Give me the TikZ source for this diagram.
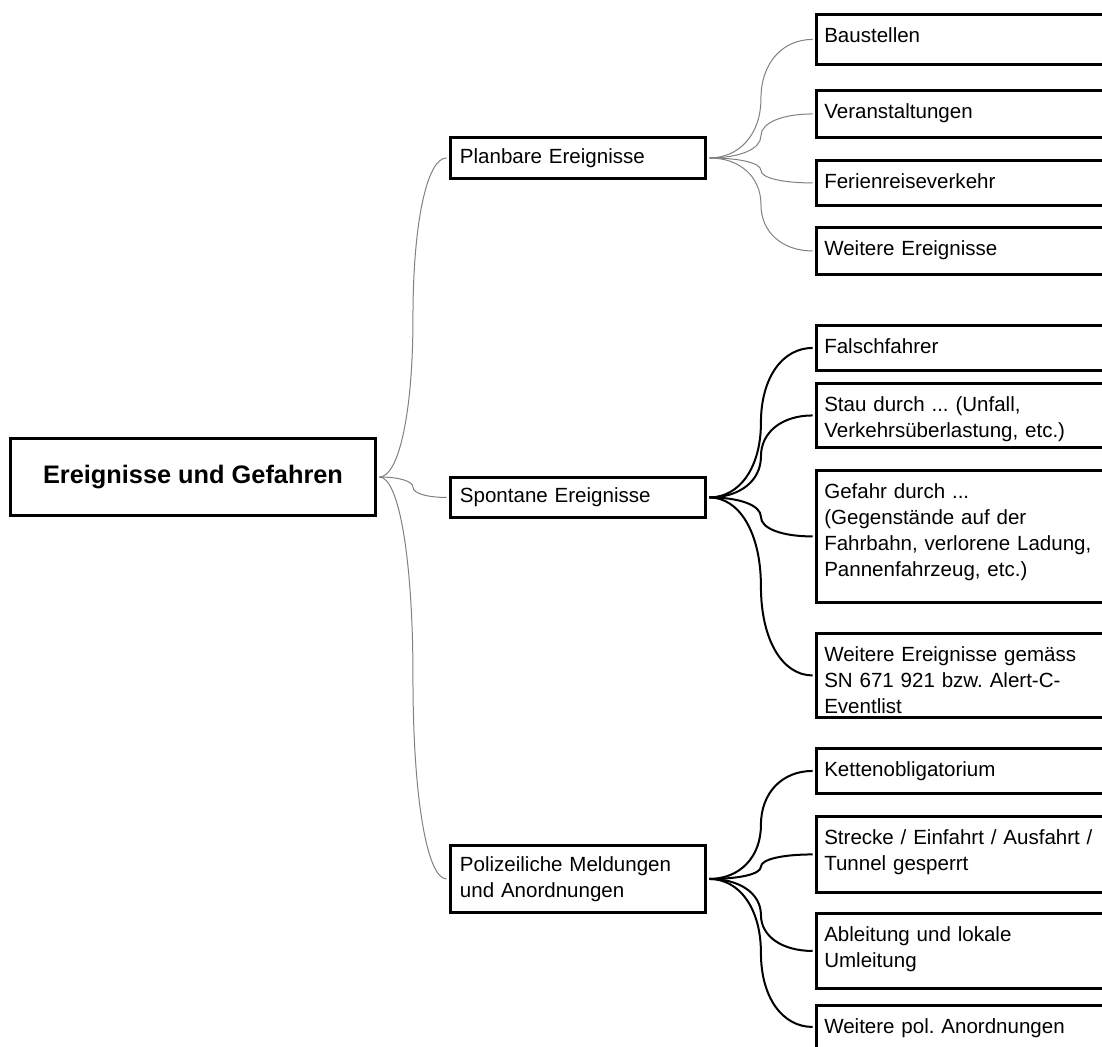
\documentclass[tikz,border=0pt]{standalone}
\usepackage{fontspec}
\setmainfont{Liberation Sans}
\frenchspacing
\usetikzlibrary{calc}

% 1 unit = 1 px (0.75pt), y grows downwards
\tikzset{
  frame/.style={draw=black, line width=2.9pt, rectangle, inner sep=0pt, anchor=north west},
  rootbox/.style={frame, minimum width=273.75pt, minimum height=57.75pt,
    font=\fontsize{19}{23}\selectfont\bfseries},
  topic/.style={frame, minimum width=191.25pt, text width=177pt, inner xsep=7.125pt,
    inner ysep=0pt, align=left, font=\fontsize{15.4}{19.5}\selectfont},
  leaf/.style={frame, minimum width=232.5pt},
  leaftext/.style={anchor=base west, inner sep=0pt, text width=213pt, align=left,
    font=\fontsize{15.4}{19.5}\selectfont},
  thinlink/.style={draw=black!50, line width=0.75pt, shorten <=1.45pt, shorten >=1.45pt},
  boldlink/.style={draw=black, line width=1.5pt, shorten <=1.45pt, shorten >=1.45pt},
}

% leaf box: name, top edge (px), height (px), text
\newcommand{\leafbox}[4]{%
  \node[leaf, minimum height=#3*0.75pt] (#1) at (814.5,#2) {};
  \node[leaftext] (#1-t) at ([shift={(9.5,29.5)}]#1.north west) {#4};
}

% mind-map branch: two half S-curves meeting vertically at the midpoint
\newcommand{\mmlink}[3]{%
  \path (#2.east) coordinate (p0) (#3.west) coordinate (p3);
  \path ($(p0)!0.5!(p3)$) coordinate (pm);
  \path (pm|-p0) coordinate (c1) (pm|-p3) coordinate (c2);
  \draw[#1] (#2.east) .. controls ($(p0)!0.6!(c1)$) and ($(pm)!0.6!(c1)$) .. (pm)
    .. controls ($(pm)!0.6!(c2)$) and ($(p3)!0.6!(c2)$) .. (#3.west);
}

\begin{document}
\begin{tikzpicture}[x=0.75pt, y=-0.75pt]
\useasboundingbox (0,0) rectangle (1102,1046);
\clip (0,0) rectangle (1102,1046);

% centre
\node[rootbox, anchor=center] (root) at (193,477) {Ereignisse und Gefahren};

% main branches
\node[topic, minimum height=30.75pt] (plan) at (448.5,135.5) {Planbare Ereignisse};
\node[topic, minimum height=30pt] (spon) at (448.5,475.5) {Spontane Ereignisse};
\node[topic, minimum height=50.25pt] (poli) at (448.5,843.5) {Polizeiliche Meldungen\\und Anordnungen};

% planned events
\leafbox{bau}{12.5}{50}{Baustellen}
\leafbox{ver}{88.5}{47}{Veranstaltungen}
\leafbox{fer}{158.5}{45}{Ferienreiseverkehr}
\leafbox{wei}{225.5}{47}{Weitere Ereignisse}

% spontaneous events
\leafbox{fal}{323.5}{45}{Falschfahrer}
\leafbox{sta}{381.5}{64}{Stau durch ... (Unfall,\\Verkehrsüberlastung, etc.)}
\leafbox{gef}{468.5}{132}{Gefahr durch ...\\(Gegenstände auf der\\Fahrbahn, verlorene Ladung,\\Pannenfahrzeug, etc.)}
\leafbox{sn}{631.5}{84}{Weitere Ereignisse gemäss\\SN 671 921 bzw. Alert-C-\\Eventlist}

% police notices
\leafbox{ket}{746.5}{45}{Kettenobligatorium}
\leafbox{str}{814.5}{76}{Strecke / Einfahrt / Ausfahrt /\\Tunnel gesperrt}
\leafbox{abl}{911.5}{75}{Ableitung und lokale\\Umleitung}
\leafbox{pol}{1003.5}{43}{Weitere pol. Anordnungen}

% connectors
\mmlink{thinlink}{root}{plan}
\mmlink{thinlink}{root}{spon}
\mmlink{thinlink}{root}{poli}

\mmlink{thinlink}{plan}{bau}
\mmlink{thinlink}{plan}{ver}
\mmlink{thinlink}{plan}{fer}
\mmlink{thinlink}{plan}{wei}

\mmlink{boldlink}{spon}{fal}
\mmlink{boldlink}{spon}{sta}
\mmlink{boldlink}{spon}{gef}
\mmlink{boldlink}{spon}{sn}

\mmlink{boldlink}{poli}{ket}
\mmlink{boldlink}{poli}{str}
\mmlink{boldlink}{poli}{abl}
\mmlink{boldlink}{poli}{pol}
\end{tikzpicture}
\end{document}
